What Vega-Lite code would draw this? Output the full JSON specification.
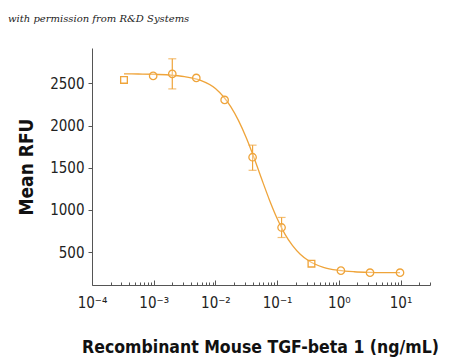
{
  "$schema": "https://vega.github.io/schema/vega-lite/v6.json",
  "width": 338,
  "height": 237,
  "autosize": "none",
  "padding": {"left": 92, "top": 48, "right": 20, "bottom": 79},
  "background": "white",
  "title": {
    "text": "with permission from R&D Systems",
    "anchor": "start",
    "frame": "group",
    "dx": -84,
    "offset": 24,
    "font": "DejaVu Serif",
    "fontStyle": "italic",
    "fontWeight": "normal",
    "fontSize": 10,
    "color": "#222"
  },
  "config": {
    "view": {"stroke": null},
    "axis": {
      "domainColor": "#555",
      "tickColor": "#555",
      "labelColor": "#222",
      "titleColor": "#111",
      "labelFont": "DejaVu Sans Condensed, Liberation Sans, sans-serif",
      "titleFont": "DejaVu Sans Condensed, Liberation Sans, sans-serif",
      "labelFontSize": 15,
      "titleFontSize": 19,
      "titleFontWeight": "bold",
      "grid": false
    }
  },
  "datasets": {
    "curve": [
      {"conc": 0.00033, "rfu": 2614},
      {"conc": 0.000562, "rfu": 2612},
      {"conc": 0.001, "rfu": 2609},
      {"conc": 0.00178, "rfu": 2600},
      {"conc": 0.00316, "rfu": 2580},
      {"conc": 0.00562, "rfu": 2540},
      {"conc": 0.01, "rfu": 2440},
      {"conc": 0.0178, "rfu": 2222},
      {"conc": 0.0237, "rfu": 2059},
      {"conc": 0.0316, "rfu": 1856},
      {"conc": 0.0422, "rfu": 1619},
      {"conc": 0.0562, "rfu": 1366},
      {"conc": 0.075, "rfu": 1119},
      {"conc": 0.1, "rfu": 899},
      {"conc": 0.133, "rfu": 717},
      {"conc": 0.178, "rfu": 577},
      {"conc": 0.237, "rfu": 475},
      {"conc": 0.316, "rfu": 403},
      {"conc": 0.562, "rfu": 319},
      {"conc": 1.0, "rfu": 283},
      {"conc": 1.78, "rfu": 267},
      {"conc": 3.16, "rfu": 260},
      {"conc": 5.62, "rfu": 257},
      {"conc": 9.8, "rfu": 256}
    ],
    "circles": [
      {"conc": 0.00098, "rfu": 2589},
      {"conc": 0.002, "rfu": 2613},
      {"conc": 0.0049, "rfu": 2565},
      {"conc": 0.0141, "rfu": 2304},
      {"conc": 0.040, "rfu": 1625},
      {"conc": 0.118, "rfu": 792},
      {"conc": 1.08, "rfu": 280},
      {"conc": 3.2, "rfu": 256},
      {"conc": 9.8, "rfu": 256}
    ],
    "squares": [
      {"conc": 0.00033, "rfu": 2542},
      {"conc": 0.36, "rfu": 363}
    ],
    "errors": [
      {"conc": 0.002, "lo": 2435, "hi": 2792},
      {"conc": 0.040, "lo": 1470, "hi": 1768},
      {"conc": 0.118, "lo": 673, "hi": 911}
    ]
  },
  "encoding": {
    "x": {
      "field": "conc",
      "type": "quantitative",
      "scale": {"type": "log", "domain": [0.0001, 30], "nice": false},
      "axis": {
        "title": "Recombinant Mouse TGF-beta 1 (ng/mL)",
        "titleFontSize": 17.5,
        "titlePadding": 26,
        "titleX": 168,
        "values": [0.0001, 0.0002, 0.0003, 0.0004, 0.0005, 0.0006, 0.0007, 0.0008, 0.0009,
                   0.001, 0.002, 0.003, 0.004, 0.005, 0.006, 0.007, 0.008, 0.009,
                   0.01, 0.02, 0.03, 0.04, 0.05, 0.06, 0.07, 0.08, 0.09,
                   0.1, 0.2, 0.3, 0.4, 0.5, 0.6, 0.7, 0.8, 0.9,
                   1, 2, 3, 4, 5, 6, 7, 8, 9, 10, 20, 30],
        "tickSize": {"condition": {"test": "abs(log(datum.value)/LN10 - round(log(datum.value)/LN10)) < 0.001", "value": -5}, "value": -3},
        "labelPadding": 15,
        "labelFlush": false,
        "labelOverlap": false,
        "labelExpr": "abs(log(datum.value)/LN10 - round(log(datum.value)/LN10)) < 0.001 ? ('10' + (round(log(datum.value)/LN10) == -4 ? '⁻⁴' : round(log(datum.value)/LN10) == -3 ? '⁻³' : round(log(datum.value)/LN10) == -2 ? '⁻²' : round(log(datum.value)/LN10) == -1 ? '⁻¹' : round(log(datum.value)/LN10) == 0 ? '⁰' : '¹')) : ''"
      }
    },
    "y": {
      "field": "rfu",
      "type": "quantitative",
      "scale": {"domain": [110, 2920], "nice": false, "zero": false},
      "axis": {
        "title": "Mean RFU",
        "titlePadding": 13,
        "format": "d",
        "values": [500, 1000, 1500, 2000, 2500],
        "tickSize": 4,
        "labelPadding": 4
      }
    }
  },
  "layer": [
    {
      "data": {"name": "curve"},
      "mark": {"type": "line", "color": "#EFA43A", "strokeWidth": 1.3, "interpolate": "monotone"}
    },
    {
      "data": {"name": "errors"},
      "mark": {"type": "errorbar", "ticks": {"size": 8, "color": "#EFA43A"}, "rule": {"color": "#EFA43A"}, "thickness": 1.2},
      "encoding": {
        "y": {"field": "lo", "type": "quantitative"},
        "y2": {"field": "hi"}
      }
    },
    {
      "data": {"name": "circles"},
      "mark": {"type": "point", "shape": "circle", "size": 55, "color": "#EFA43A", "strokeWidth": 1.3, "filled": false, "fill": "white", "fillOpacity": 0.3}
    },
    {
      "data": {"name": "squares"},
      "mark": {"type": "point", "shape": "square", "size": 45, "color": "#EFA43A", "strokeWidth": 1.3, "filled": false, "fill": "white", "fillOpacity": 0.3}
    }
  ]
}
